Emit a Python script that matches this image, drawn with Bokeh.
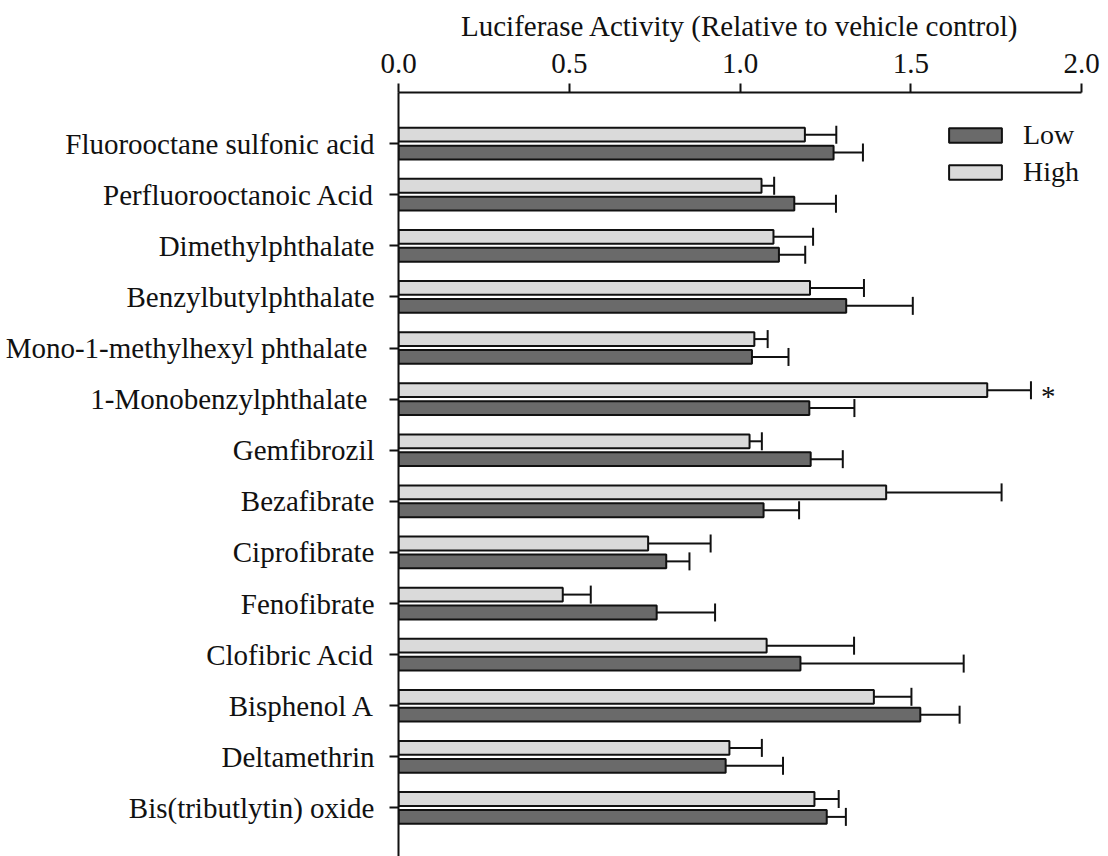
import numpy as np
from bokeh.plotting import figure
from bokeh.models import (ColumnDataSource, Range1d, FixedTicker, Whisker, TeeHead,
                          Legend, LegendItem, PrintfTickFormatter)
from bokeh.core.properties import value
from bokeh.embed import file_html
from bokeh.resources import INLINE

compounds = [
    "Fluorooctane sulfonic acid",
    "Perfluorooctanoic Acid",
    "Dimethylphthalate",
    "Benzylbutylphthalate",
    "Mono-1-methylhexyl phthalate ",
    "1-Monobenzylphthalate ",
    "Gemfibrozil",
    "Bezafibrate",
    "Ciprofibrate",
    "Fenofibrate",
    "Clofibric Acid",
    "Bisphenol A",
    "Deltamethrin",
    "Bis(tributlytin) oxide",
]
low_mean = [1.274, 1.159, 1.114, 1.311, 1.035, 1.203, 1.207, 1.069, 0.784, 0.756, 1.177, 1.528, 0.958, 1.254]
low_err = [0.086, 0.122, 0.077, 0.195, 0.107, 0.132, 0.094, 0.104, 0.068, 0.171, 0.478, 0.115, 0.168, 0.056]
high_mean = [1.190, 1.063, 1.098, 1.205, 1.042, 1.724, 1.028, 1.428, 0.731, 0.481, 1.078, 1.392, 0.969, 1.218]
high_err = [0.092, 0.037, 0.116, 0.158, 0.039, 0.128, 0.036, 0.338, 0.183, 0.082, 0.256, 0.110, 0.095, 0.071]
x_ticks = [0.0, 0.5, 1.0, 1.5, 2.0]
significant = ["1-Monobenzylphthalate "]  # High dose marked with *

FONT = "Liberation Serif"
OFF = 0.175
BAR_H = 0.27

pos = np.arange(1, len(compounds) + 1)
low_src = ColumnDataSource(dict(y=pos + OFF, m=low_mean,
                                up=np.array(low_mean) + np.array(low_err)))
high_src = ColumnDataSource(dict(y=pos - OFF, m=high_mean,
                                 up=np.array(high_mean) + np.array(high_err)))

p = figure(width=1108, height=856, output_backend="svg", toolbar_location=None,
           x_range=Range1d(0, 2.0), y_range=Range1d(14.95, 0.0),
           x_axis_location="above", min_border_left=398, min_border_right=27,
           min_border_top=92, min_border_bottom=0)
p.outline_line_color = None
p.xgrid.visible = False
p.ygrid.visible = False
p.background_fill_color = "white"

low_r = p.hbar(y="y", right="m", left=0, height=BAR_H, source=low_src,
               fill_color="#6a6a6a", line_color="#111111", line_width=2)
high_r = p.hbar(y="y", right="m", left=0, height=BAR_H, source=high_src,
                fill_color="#dadada", line_color="#111111", line_width=2)

for src in (low_src, high_src):
    w = Whisker(base="y", lower="m", upper="up", dimension="width", source=src,
                line_color="#111111", line_width=2, lower_head=None,
                upper_head=TeeHead(size=18, line_color="#111111", line_width=2))
    p.add_layout(w)

# significance marker
sig_idx = [compounds.index(s) for s in significant]
star_src = ColumnDataSource(dict(x=[high_mean[i] + high_err[i] for i in sig_idx],
                                 y=[pos[i] - OFF for i in sig_idx],
                                 t=["*"] * len(sig_idx)))
p.text(x="x", y="y", text="t", source=star_src, x_offset=10, y_offset=6,
       text_font=value(FONT), text_font_size="29px", text_color="#111111",
       text_align="left", text_baseline="middle")

xa = p.xaxis[0]
xa.ticker = FixedTicker(ticks=x_ticks)
xa.formatter = PrintfTickFormatter(format="%.1f")
xa.minor_tick_line_color = None
xa.axis_label = "Luciferase Activity (Relative to vehicle control)"

ya = p.yaxis[0]
ya.ticker = FixedTicker(ticks=[float(v) for v in pos])
ya.major_label_overrides = {float(v): c for v, c in zip(pos, compounds)}
ya.minor_tick_line_color = None

for ax in (xa, ya):
    ax.axis_line_width = 2
    ax.axis_line_color = "#111111"
    ax.major_tick_line_width = 2
    ax.major_tick_line_color = "#111111"
    ax.major_tick_in = 0
    ax.major_tick_out = 9
    ax.major_label_text_font = FONT
    ax.major_label_text_font_size = "29px"
    ax.major_label_text_color = "#111111"
    ax.axis_label_text_font = FONT
    ax.axis_label_text_font_size = "29px"
    ax.axis_label_text_font_style = "normal"
    ax.axis_label_text_color = "#111111"
xa.major_label_standoff = 11
xa.axis_label_standoff = 9
ya.major_label_standoff = 15

legend = Legend(items=[LegendItem(label="Low", renderers=[low_r]),
                       LegendItem(label="High", renderers=[high_r])],
                location=(544, 668), glyph_width=66, glyph_height=18,
                label_text_font=FONT, label_text_font_size="28px",
                label_text_color="#111111", label_standoff=15,
                padding=0, margin=0, spacing=5, border_line_color=None,
                background_fill_alpha=0)
p.add_layout(legend)

open("out.html", "w").write(file_html(p, INLINE))
